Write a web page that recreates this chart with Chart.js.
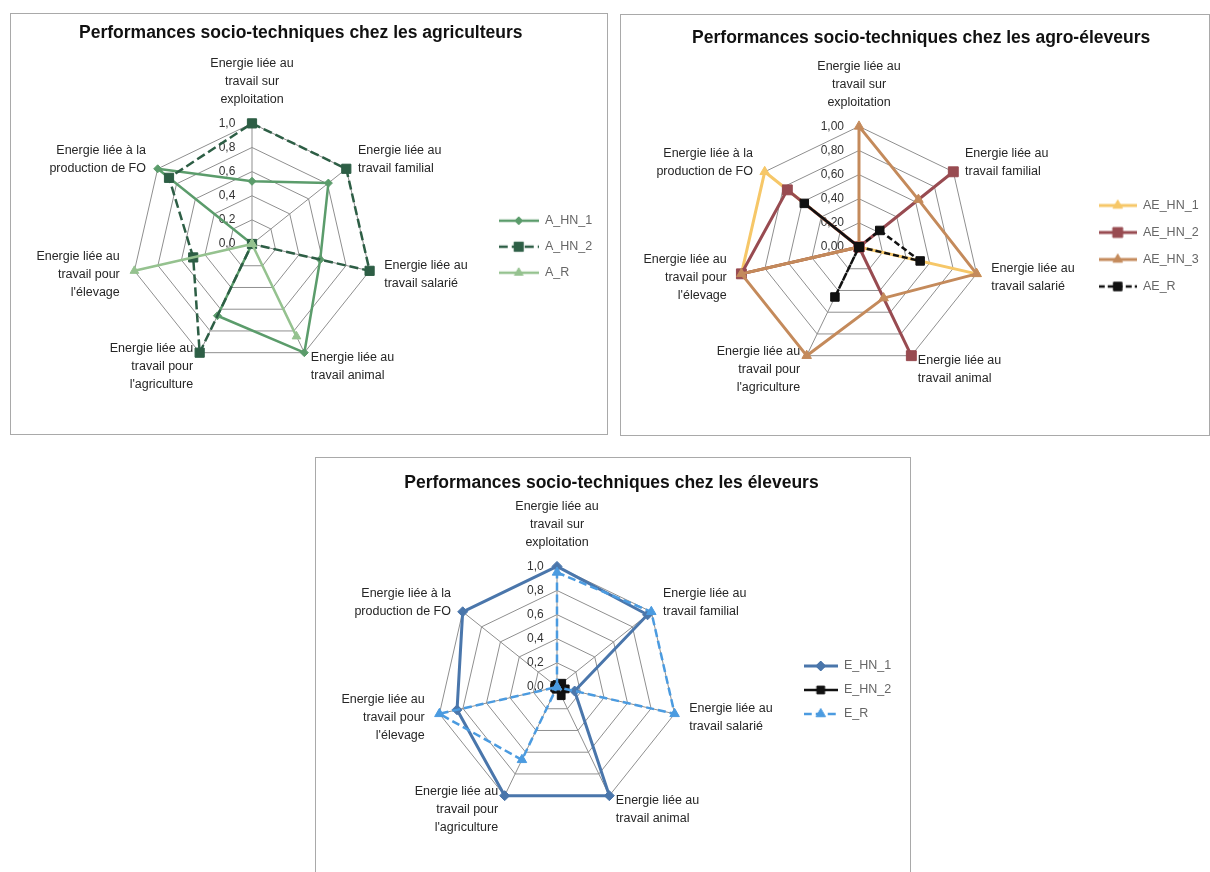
<!DOCTYPE html>
<html lang="fr">
<head>
<meta charset="utf-8">
<title>Performances socio-techniques</title>
<script src="https://cdn.jsdelivr.net/npm/chart.js@4/dist/chart.umd.min.js"></script>
<style>
  html, body { margin: 0; padding: 0; background: #ffffff; }
  body { width: 1210px; height: 872px; position: relative; overflow: hidden; }
  .panel { position: absolute; border: 1px solid #a9a9a9; background: #ffffff; }
  .panel canvas { display: block; }
</style>
</head>
<body>
<div class="panel" style="left:10px; top:13px;"><canvas id="chartAgri" width="596" height="420"></canvas></div>
<div class="panel" style="left:620px; top:14px;"><canvas id="chartAgroEl" width="588" height="420"></canvas></div>
<div class="panel" style="left:315px; top:457px;"><canvas id="chartEl" width="594" height="414"></canvas></div>

<script>
// ---- Axes (same seven energy indicators on every chart) ----
const axisLabels = [
  ['Energie liée au', 'travail sur', 'exploitation'],
  ['Energie liée au', 'travail familial'],
  ['Energie liée au', 'travail salarié'],
  ['Energie liée au', 'travail animal'],
  ['Energie liée au', 'travail pour', "l'agriculture"],
  ['Energie liée au', 'travail pour', "l'élevage"],
  ['Energie liée à la', 'production de FO']
];

// ---- Radial scale ticks ----
const tickValues = [0, 0.2, 0.4, 0.6, 0.8, 1];
const tickLabelsOneDec = ['0,0', '0,2', '0,4', '0,6', '0,8', '1,0'];
const tickLabelsTwoDec = ['0,00', '0,20', '0,40', '0,60', '0,80', '1,00'];

// ---- Agriculteurs ----
const A_HN_1 = [0.52, 0.81, 0.58, 1.00, 0.66, 0.00, 1.00];
const A_HN_2 = [1.00, 1.00, 1.00, 0.00, 1.00, 0.50, 0.88];
const A_R    = [0.00, 0.00, 0.00, 0.85, 0.00, 1.00, 0.00];

// ---- Agro-éleveurs ----
const AE_HN_1 = [0.00, 0.00, 1.00, 0.00, 0.00, 1.00, 1.00];
const AE_HN_2 = [0.00, 1.00, 0.00, 1.00, 0.00, 1.00, 0.76];
const AE_HN_3 = [1.00, 0.63, 1.00, 0.47, 1.00, 1.00, 0.00];
const AE_R    = [0.00, 0.22, 0.52, 0.00, 0.46, 0.00, 0.58];

// ---- Eleveurs ----
const E_HN_1 = [1.00, 0.96, 0.15, 1.00, 1.00, 0.85, 1.00];
const E_HN_2 = [0.02, 0.05, 0.07, 0.08, 0.02, 0.02, 0.02];
const E_R    = [0.95, 1.00, 1.00, 0.00, 0.67, 1.00, 0.00];

// ================= rendering =================
const FONT = '"Liberation Sans", Arial, sans-serif';
Chart.defaults.font.family = FONT;
const NBSP = '\u00a0';

// Side labels are centred vertically on their spoke end (top label stays above).
const sideLabelCentering = {
  id: 'sideLabelCentering',
  afterLayout(chart) {
    const scale = chart.scales.r;
    const items = scale && scale._pointLabelItems;
    if (!items) return;
    items.forEach((item, i) => {
      const deg = Math.round(scale.getIndexAngle(i) * 180 / Math.PI) % 360;
      if (deg === 0 || deg === 180) return;
      const h = item.bottom - item.top;
      const shift = (deg > 90 && deg < 270) ? -h / 2 : h / 2;
      item.y += shift; item.top += shift; item.bottom += shift;
    });
  }
};

// Legend key: line sample with the series marker in its middle.
function legendSymbol(s, width) {
  const c = document.createElement('canvas');
  c.width = width; c.height = 16;
  const g = c.getContext('2d');
  g.strokeStyle = s.color; g.fillStyle = s.color;
  g.lineWidth = s.width;
  g.setLineDash(s.dash || []);
  g.beginPath(); g.moveTo(0, 8); g.lineTo(width, 8); g.stroke();
  g.setLineDash([]);
  g.lineWidth = 1;
  if (Chart.helpers && Chart.helpers.drawPoint) {
    Chart.helpers.drawPoint(g, { pointStyle: s.marker, radius: s.radius, rotation: 0, borderWidth: 1 }, width / 2, 8);
  }
  return c;
}

function makeRadar(id, cfg) {
  const n = cfg.series.length;
  const datasets = cfg.series.map((s, i) => ({
    label: s.label,
    data: s.data,
    order: n - i,
    fill: false,
    borderColor: s.color,
    backgroundColor: s.color,
    borderWidth: s.width,
    borderDash: s.dash || [],
    borderJoinStyle: 'round',
    pointStyle: s.marker,
    pointRadius: s.radius,
    pointBackgroundColor: s.color,
    pointBorderColor: s.color,
    pointBorderWidth: 1
  }));
  const symbols = cfg.series.map(s => legendSymbol(s, cfg.legendBox));

  return new Chart(document.getElementById(id), {
    type: 'radar',
    data: { labels: axisLabels, datasets },
    plugins: [sideLabelCentering],
    options: {
      responsive: false,
      animation: false,
      devicePixelRatio: 1,
      events: [],
      layout: { padding: cfg.pad },
      scales: {
        r: {
          min: -0.00001,
          max: 1,
          beginAtZero: false,
          afterBuildTicks: (scale) => { scale.ticks = tickValues.map(v => ({ value: v })); },
          ticks: {
            font: { size: 12 },
            color: '#333333',
            showLabelBackdrop: false,
            callback: (v, i) => cfg.ticks[i] + NBSP.repeat(cfg.tickShift)
          },
          grid: { color: '#8f8f8f', lineWidth: 1 },
          angleLines: { color: '#8f8f8f', lineWidth: 1 },
          pointLabels: {
            font: { size: 12.5, lineHeight: 1.45 },
            color: '#262626',
            padding: 7
          }
        }
      },
      plugins: {
        tooltip: { enabled: false },
        title: {
          display: true,
          text: cfg.title,
          color: '#111111',
          font: { size: 17.5, weight: 'bold', lineHeight: 1.2 },
          padding: cfg.titlePad
        },
        legend: {
          position: 'right',
          fullSize: false,
          title: { display: true, text: '', padding: 0, font: { size: 10, lineHeight: cfg.legendTitle / 10 } },
          labels: {
            usePointStyle: true,
            pointStyleWidth: cfg.legendBox,
            padding: cfg.legendPad,
            color: '#222222',
            font: { size: 12.5 },
            generateLabels: (chart) => chart.data.datasets.map((ds, i) => ({
              text: ds.label,
              datasetIndex: i,
              pointStyle: symbols[i],
              fillStyle: ds.borderColor,
              strokeStyle: ds.borderColor,
              lineWidth: 0,
              hidden: false
            }))
          }
        }
      }
    }
  });
}

makeRadar('chartAgri', {
  title: 'Performances socio-techniques chez les agriculteurs' + NBSP.repeat(4),
  ticks: tickLabelsOneDec, tickShift: 15,
  pad: { left: 7.75, right: 4.76, top: 0, bottom: 6.2 },
  titlePad: { top: 8.5, bottom: 3.5 },
  legendPad: 13.5, legendBox: 40, legendTitle: 18.6,
  series: [
    { label: 'A_HN_1', data: A_HN_1, color: '#5b9c6b', width: 2.5, marker: 'rectRot', radius: 4 },
    { label: 'A_HN_2', data: A_HN_2, color: '#2d5e45', width: 2.5, marker: 'rect', radius: 6.5, dash: [9, 4] },
    { label: 'A_R',    data: A_R,    color: '#95c28f', width: 2.5, marker: 'triangle', radius: 5 }
  ]
});

makeRadar('chartAgroEl', {
  title: 'Performances socio-techniques chez les agro-éleveurs',
  ticks: tickLabelsTwoDec, tickShift: 16,
  pad: { left: 12.75, right: 0.42, top: 0, bottom: 4.2 },
  titlePad: { top: 12.5, bottom: 1.5 },
  legendPad: 14.5, legendBox: 38, legendTitle: 11.2,
  series: [
    { label: 'AE_HN_1', data: AE_HN_1, color: '#f6c768', width: 3, marker: 'triangle', radius: 5.5 },
    { label: 'AE_HN_2', data: AE_HN_2, color: '#984b51', width: 3, marker: 'rect', radius: 7 },
    { label: 'AE_HN_3', data: AE_HN_3, color: '#c48a5b', width: 3, marker: 'triangle', radius: 5.5 },
    { label: 'AE_R',    data: AE_R,    color: '#111111', width: 2.5, marker: 'rect', radius: 6, dash: [6, 3] }
  ]
});

makeRadar('chartEl', {
  title: 'Performances socio-techniques chez les éleveurs',
  ticks: tickLabelsOneDec, tickShift: 13,
  pad: { left: 5.75, right: 8.76, top: 0, bottom: 1.2 },
  titlePad: { top: 14.5, bottom: -3.5 },
  legendPad: 11.5, legendBox: 34, legendTitle: 19.2,
  series: [
    { label: 'E_HN_1', data: E_HN_1, color: '#4a76ab', width: 3, marker: 'rectRot', radius: 5 },
    { label: 'E_HN_2', data: E_HN_2, color: '#111111', width: 2.5, marker: 'rect', radius: 5.5 },
    { label: 'E_R',    data: E_R,    color: '#4b9be0', width: 2.5, marker: 'triangle', radius: 5.5, dash: [8, 4] }
  ]
});
</script>
</body>
</html>
